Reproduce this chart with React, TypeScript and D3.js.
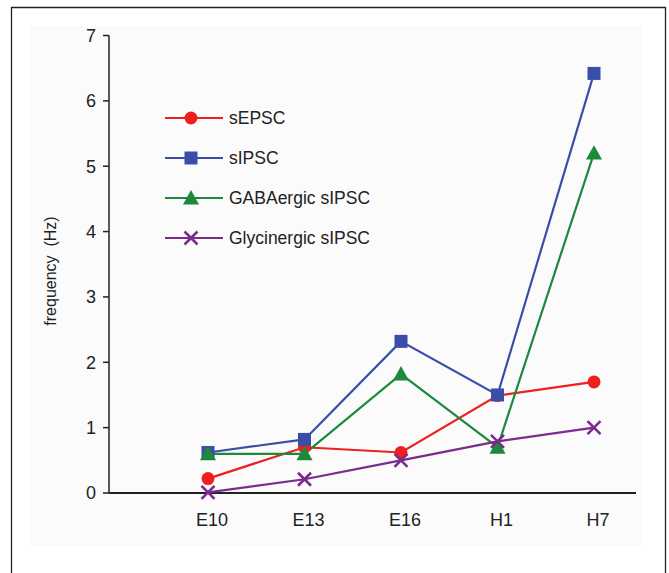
import React from "react";
import * as d3 from "d3";

const categories = ["E10", "E13", "E16", "H1", "H7"];
const yTicks = [0, 1, 2, 3, 4, 5, 6, 7];
const seriesNames = ["sEPSC", "sIPSC", "GABAergic sIPSC", "Glycinergic sIPSC"];
const sEPSC = [0.22, 0.7, 0.62, 1.49, 1.7];
const sIPSC = [0.62, 0.82, 2.32, 1.5, 6.42];
const gabaergic = [0.6, 0.6, 1.82, 0.7, 5.2];
const glycinergic = [0.01, 0.21, 0.5, 0.79, 1.0];
const colors = ["#ee1f1f", "#3a4ea9", "#1b8a3b", "#7c2b8c"];
const markers = ["circle", "square", "triangle", "cross"];

const W = 669;
const H = 573;

function Marker({ type, x, y, color }: { type: string; x: number; y: number; color: string }) {
  if (type === "circle") return <circle cx={x} cy={y} r={6.5} fill={color} />;
  if (type === "square") return <rect x={x - 6.5} y={y - 6.5} width={13} height={13} fill={color} />;
  if (type === "triangle") {
    const s = 8;
    return <path d={`M${x},${y - s} L${x + s},${y + s * 0.8} L${x - s},${y + s * 0.8} Z`} fill={color} />;
  }
  const s = 6.5;
  return (
    <path
      d={`M${x - s},${y - s} L${x + s},${y + s} M${x - s},${y + s} L${x + s},${y - s}`}
      stroke={color}
      strokeWidth={2.6}
      fill="none"
    />
  );
}

export default function App() {
  const series = [sEPSC, sIPSC, gabaergic, glycinergic];
  const x = d3.scalePoint<string>().domain(categories).range([208, 594]);
  const y = d3.scaleLinear().domain([0, 7]).range([493, 35.5]);
  const axisLeft = 109;
  const axisRight = 636;
  const line = d3
    .line<number>()
    .x((_, i) => x(categories[i]) as number)
    .y((d) => y(d));
  const font = "'Liberation Sans', Arial, sans-serif";
  const legendY = [118, 158, 198, 238];

  return (
    <svg
      width={W}
      height={H}
      style={{ position: "absolute", left: 0, top: 0, background: "#fff" }}
      fontFamily={font}
    >
      <rect x={0} y={0} width={W} height={H} fill="#ffffff" />
      <rect x={30} y={26} width={612} height={520} fill="#fbfbfb" />
      <path d={`M11.5,${H} V7.5 H665.5 V${H}`} fill="none" stroke="#222" strokeWidth={1.3} />

      {/* y axis */}
      <line x1={axisLeft} x2={axisLeft} y1={y(7)} y2={y(0)} stroke="#222" strokeWidth={1.5} />
      {yTicks.map((t) => (
        <g key={t}>
          <line x1={axisLeft - 6} x2={axisLeft} y1={y(t)} y2={y(t)} stroke="#222" strokeWidth={1.5} />
          <text x={96} y={y(t)} dy="0.36em" textAnchor="end" fontSize={18} fill="#222">
            {t}
          </text>
        </g>
      ))}
      <text
        transform={`translate(56,${271}) rotate(-90)`}
        textAnchor="middle"
        fontSize={16}
        fill="#222"
        style={{ whiteSpace: "pre" }}
      >
        {"frequency  (Hz)"}
      </text>

      {/* x axis */}
      <line x1={axisLeft} x2={axisRight} y1={y(0)} y2={y(0)} stroke="#222" strokeWidth={1.8} />
      {categories.map((c) => (
        <text key={c} x={(x(c) as number) + 4} y={526} textAnchor="middle" fontSize={18} fill="#222">
          {c}
        </text>
      ))}

      {/* series */}
      {series.map((s, k) => (
        <path key={k} d={line(s) || ""} fill="none" stroke={colors[k]} strokeWidth={2.2} />
      ))}
      {series.map((s, k) =>
        s.map((v, i) => (
          <Marker key={`${k}-${i}`} type={markers[k]} x={x(categories[i]) as number} y={y(v)} color={colors[k]} />
        ))
      )}

      {/* legend */}
      {seriesNames.map((n, k) => (
        <g key={n}>
          <line x1={165} x2={223} y1={legendY[k]} y2={legendY[k]} stroke={colors[k]} strokeWidth={2.2} />
          <Marker type={markers[k]} x={191} y={legendY[k]} color={colors[k]} />
          <text x={229} y={legendY[k]} dy="0.36em" fontSize={17.5} fill="#222">
            {n}
          </text>
        </g>
      ))}
    </svg>
  );
}
